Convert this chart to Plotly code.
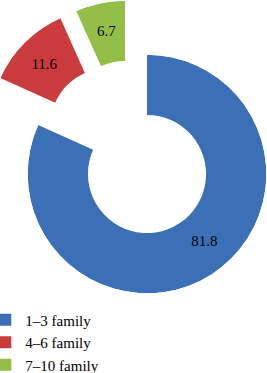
import numpy as np
import plotly.graph_objects as go

# ---- data ----
categories = ["1–3 family", "4–6 family", "7–10 family"]
values = [81.8, 11.6, 6.7]
value_labels = ["81.8", "11.6", "6.7"]

# ---- style / layout ----
colors = ["#3B70B6", "#C93B3D", "#93BF48"]
W, H = 267, 373
R_PX = 119.3                      # outer radius in px
HOLE = 0.495                      # inner / outer radius
CENTERS = [(147, 174), (109, 127), (125, 120)]   # exploded slice centres (px)
LABEL_R = 0.75
LABEL_DTHETA = [-7, -1.5, 0]
PAD = 0.4
FONT = "Liberation Serif, Times New Roman, DejaVu Serif, serif"

total = sum(values)
spans = [v / total * 360 for v in values]
starts = np.concatenate([[0], np.cumsum(spans)[:-1]])


def bbox(s0, s1):
    angs = [s0, s1] + [k * 90 for k in range(-8, 9) if s0 < k * 90 < s1]
    xs = [np.cos(np.radians(a)) for a in angs] + [0.0]
    ys = [np.sin(np.radians(a)) for a in angs] + [0.0]
    return min(xs), min(ys), max(xs), max(ys)


fig = go.Figure()
layout_polars = {}
for i, (name, lab) in enumerate(zip(categories, value_labels)):
    key = "polar" if i == 0 else f"polar{i+1}"
    a0, span = starts[i], spans[i]
    mid = a0 + span / 2
    s0 = 90 - (a0 + span) - PAD
    s1 = 90 - a0 + PAD
    x0, y0, x1, y1 = bbox(s0, s1)
    cx, cy = CENTERS[i]
    dx = [max(0, (cx + R_PX * x0) / W), min(1, (cx + R_PX * x1) / W)]
    dy = [max(0, 1 - (cy - R_PX * y0) / H), min(1, 1 - (cy - R_PX * y1) / H)]
    layout_polars[key] = dict(
        domain=dict(x=dx, y=dy),
        sector=[s0, s1],
        hole=0,
        bgcolor="rgba(0,0,0,0)",
        radialaxis=dict(range=[0, 1], visible=False),
        angularaxis=dict(rotation=90, direction="clockwise", visible=False),
    )
    fig.add_trace(go.Barpolar(
        r=[1 - HOLE], base=[HOLE], theta=[mid], width=[span],
        marker=dict(color=colors[i], line=dict(width=0)),
        name=name, subplot=key, showlegend=True, hoverinfo="name",
    ))
    fig.add_trace(go.Scatterpolar(
        r=[LABEL_R], theta=[mid + LABEL_DTHETA[i]], mode="text", text=[lab],
        textfont=dict(family=FONT, size=15, color="black"),
        subplot=key, showlegend=False, hoverinfo="skip", cliponaxis=False,
    ))

fig.update_layout(
    width=W, height=H,
    margin=dict(l=0, r=0, t=0, b=0, autoexpand=False),
    paper_bgcolor="white", plot_bgcolor="white",
    showlegend=True,
    legend=dict(
        x=-0.055, xanchor="left", y=0.186, yanchor="top",
        font=dict(family=FONT, size=15, color="black"),
        bgcolor="rgba(0,0,0,0)", traceorder="normal",
    ),
    **layout_polars,
)

fig.write_html("out.html")
